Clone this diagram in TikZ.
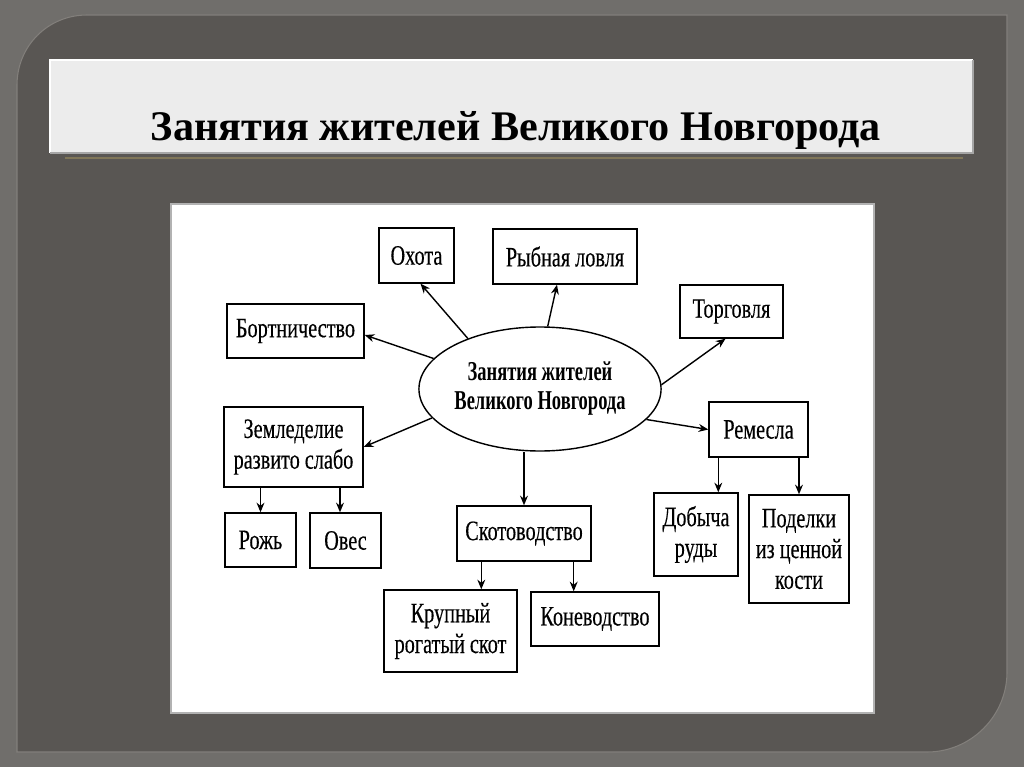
\documentclass[tikz,border=0pt]{standalone}
\usepackage{fontspec}
\setmainfont{Liberation Serif}
\newfontfamily\diagfont[FakeStretch=0.72,FakeBold=0.3]{Liberation Serif}
\newfontfamily\hubfont[FakeStretch=0.68]{Liberation Serif}
\usetikzlibrary{arrows.meta,shapes.geometric,positioning,calc}
\definecolor{slidebg}{RGB}{112,110,107}
\definecolor{panelbg}{RGB}{89,86,83}
\definecolor{panelrim}{RGB}{130,127,123}
\definecolor{titlebg}{RGB}{236,236,236}
\definecolor{rulec}{RGB}{128,118,88}

\begin{document}
\begin{tikzpicture}[x=0.02cm,y=-0.02cm,
  box/.style={draw, line width=0.8pt, fill=white, align=center, inner sep=0pt,
    font=\diagfont\fontsize{16}{17.5}\selectfont},
  arr/.style={-{Stealth[length=5.5pt,width=4.5pt]}, line width=0.8pt}]
% Slide background
\fill[slidebg] (0,0) rectangle (1024,767);
\useasboundingbox (0,0) rectangle (1024,767);
% Dark panel with two rounded corners
\filldraw[fill=panelbg, draw=panelrim, line width=0.6pt]
  (17,752) -- (17,85) .. controls (17,46) and (48,15) .. (87,15) -- (1007,15)
  -- (1007,672) .. controls (1007,716) and (971,752) .. (927,752) -- cycle;
% Title bar
\fill[titlebg] (50,60) rectangle (973,153);
\draw[white, line width=1pt] (50,153) -- (50,60) -- (973,60);
\draw[black!35, line width=1pt] (50,153) -- (973,153) -- (973,60);
\draw[rulec, line width=1.4pt] (65,158) -- (963,158);
\node[font=\bfseries\fontsize{24}{28}\selectfont, anchor=base] (title) at (516,140)
  {Занятия жителей Великого Новгорода};
% Picture area
\filldraw[fill=white, draw=black!30, line width=1.6pt] (171,204) rectangle (874,713);
% Centre
\node[ellipse, draw, line width=0.8pt, fill=white, minimum width=234*0.02cm,
  minimum height=124*0.02cm, inner sep=0pt, align=center,
  font=\hubfont\bfseries\fontsize{15.5}{16.5}\selectfont] (hub) at (540,389)
  {Занятия жителей\\Великого Новгорода};
% Boxes: name/x/y/width/height/text
\foreach \n/\x/\y/\w/\h/\t in {
  ohota/416.5/255.5/75/55/Охота,
  ryba/565/256.5/144/55/Рыбная ловля,
  torg/731.5/311.5/103/53/Торговля,
  bort/295.5/331/137/54/Бортничество,
  zeml/293.5/447/139/80/{Земледелие\\развито слабо},
  rozh/260.5/540/71/54/Рожь,
  oves/345.5/540.5/71/55/Овес,
  skot/524/533.5/134/55/Скотоводство,
  krs/450.5/631/133/82/{Крупный\\рогатый скот},
  kone/595/619/128/54/Коневодство,
  remes/758.5/429.5/99/55/Ремесла,
  rudy/696/534.5/84/83/{Добыча\\руды},
  kost/799/549/100/108/{Поделки\\из ценной\\кости}} {
  \node[box, minimum width=\w*0.02cm, minimum height=\h*0.02cm] (\n) at (\x,\y) {\t};
}
% Arrows from the centre
\draw[arr] (hub.145) -- ($(ohota.south)+(4,0)$);
\draw[arr] (hub.83) -- ($(ryba.south)+(-8,0)$);
\draw[arr] (hub.2) -- ($(torg.south)+(-6,0)$);
\draw[arr] (hub.164) -- ($(bort.east)+(0,4)$);
\draw[arr] (hub.195) -- (zeml.east);
\draw[arr] (hub.344) -- (remes.west);
\draw[arr] (skot.north |- hub.south) -- (skot.north);
% Sub-branches
\coordinate (z2) at ($(zeml.south)+(46.5,0)$);
\coordinate (s1) at ($(skot.south west)+(25,0)$);
\coordinate (s2) at ($(skot.south east)+(-18,0)$);
\coordinate (r1) at ($(remes.south west)+(10,0)$);
\draw[arr] (rozh.north |- zeml.south) -- (rozh.north);
\draw[arr] (z2) -- (z2 |- oves.north);
\draw[arr] (s1) -- (s1 |- krs.north);
\draw[arr] (s2) -- (s2 |- kone.north);
\draw[arr] (r1) -- (r1 |- rudy.north);
\draw[arr] (kost.north |- remes.south) -- (kost.north);
\end{tikzpicture}
\end{document}
